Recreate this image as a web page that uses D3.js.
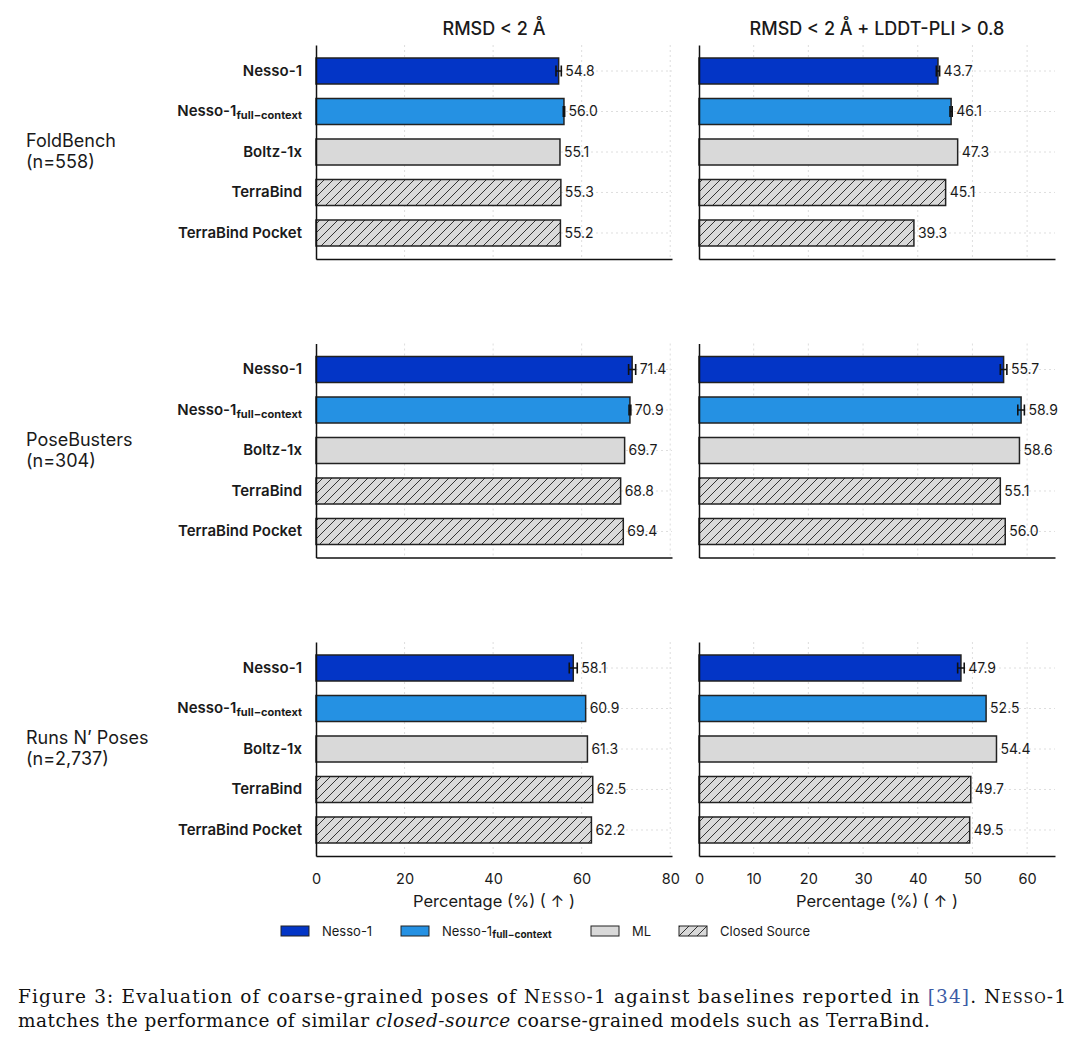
<!DOCTYPE html>
<html lang="en">
<head>
  <meta charset="UTF-8">
  <title>Nesso-1 coarse-grained poses</title>
  <style>
    body { margin: 0; background: #fff; }
    svg text { font-family: Inter, "Open Sans", sans-serif; fill: #1a1a1a; }
    .caption text { font-family: "DejaVu Serif", serif; fill: #111; }
  </style>
</head>
<body>
<svg id="chart" width="1080" height="1045"></svg>
<script src="https://d3js.org/d3.v7.min.js"></script>
<script>

// Data

const benchNames = ["FoldBench", "PoseBusters", "Runs N\u2019 Poses"];
const benchCounts = ["(n=558)", "(n=304)", "(n=2,737)"];
const models = ["Nesso-1", "Nesso-1 full", "Boltz-1x", "TerraBind", "TerraBind Pocket"];
const modelKind = ["nesso", "full", "ml", "closed", "closed"];
const metricTitles = ["RMSD < 2 \u00c5", "RMSD < 2 \u00c5 + LDDT-PLI > 0.8"];

const rmsdValues = [
  [54.8, 56.0, 55.1, 55.3, 55.2],
  [71.4, 70.9, 69.7, 68.8, 69.4],
  [58.1, 60.9, 61.3, 62.5, 62.2]
];
const rmsdErrors = [
  [0.6, 0.15, 0, 0, 0],
  [0.8, 0.2, 0, 0, 0],
  [0.9, 0, 0, 0, 0]
];
const lddtValues = [
  [43.7, 46.1, 47.3, 45.1, 39.3],
  [55.7, 58.9, 58.6, 55.1, 56.0],
  [47.9, 52.5, 54.4, 49.7, 49.5]
];
const lddtErrors = [
  [0.3, 0.2, 0, 0, 0],
  [0.6, 0.6, 0, 0, 0],
  [0.6, 0, 0, 0, 0]
];
const rmsdTicks = [0, 20, 40, 60, 80];
const lddtTicks = [0, 10, 20, 30, 40, 50, 60];

const legendLabels = ["Nesso-1", "Nesso-1 full", "ML", "Closed Source"];
const legendKinds = ["nesso", "full", "ml", "closed"];

// Styling

const fills = { nesso: "#0335c6", full: "#2591e3", ml: "#d9d9d9", closed: "url(#hatch)" };
const edge = "#222";

const svg = d3.select("#chart");

const defs = svg.append("defs");
const pat = defs.append("pattern")
  .attr("id", "hatch")
  .attr("patternUnits", "userSpaceOnUse")
  .attr("width", 9).attr("height", 9);
pat.append("rect").attr("width", 9).attr("height", 9).attr("fill", "#d9d9d9");
pat.append("path")
  .attr("d", "M0,9 L9,0 M-2,2 L2,-2 M7,11 L11,7")
  .attr("stroke", "#333").attr("stroke-width", 1);

const columns = [
  { left: 316, right: 672, max: 80.4, ticks: rmsdTicks, values: rmsdValues, errors: rmsdErrors, title: metricTitles[0] },
  { left: 699, right: 1055, max: 65.1, ticks: lddtTicks, values: lddtValues, errors: lddtErrors, title: metricTitles[1] }
];
const panelTops = [45, 343.5, 642];
const panelH = 214;

// draw a model name, with the subscript for the full-context variant
function modelLabel(sel, name, subSize) {
  if (name === "Nesso-1 full") {
    sel.text(null);
    sel.append("tspan").text("Nesso-1");
    sel.append("tspan").attr("dy", "0.28em").attr("font-size", subSize)
      .attr("font-weight", 700).text("full\u2212context");
  } else {
    sel.text(name);
  }
}

columns.forEach((col, ci) => {
  const x = d3.scaleLinear().domain([0, col.max]).range([col.left, col.right]);

  // column title
  svg.append("text")
    .attr("x", (col.left + col.right) / 2).attr("y", 35)
    .attr("text-anchor", "middle")
    .attr("font-size", 18).attr("font-weight", 500)
    .text(col.title);

  panelTops.forEach((top, bi) => {
    const y = d3.scaleBand().domain(models)
      .range([top, top + panelH])
      .paddingInner(0.358).paddingOuter(0.321);
    const g = svg.append("g");

    // grid
    g.selectAll(".vgrid").data(col.ticks.filter(t => t > 0)).join("line")
      .attr("x1", d => x(d)).attr("x2", d => x(d))
      .attr("y1", top).attr("y2", top + panelH)
      .attr("stroke", "#d6d6d6").attr("stroke-width", 0.8).attr("stroke-dasharray", "2,3");
    g.selectAll(".hgrid").data(models).join("line")
      .attr("x1", col.left).attr("x2", col.right)
      .attr("y1", d => y(d) + y.bandwidth() / 2).attr("y2", d => y(d) + y.bandwidth() / 2)
      .attr("stroke", "#d6d6d6").attr("stroke-width", 0.8).attr("stroke-dasharray", "2,3");

    const vals = col.values[bi];
    const errs = col.errors[bi];

    // bars
    g.selectAll(".bar").data(models).join("rect")
      .attr("x", x(0))
      .attr("y", d => y(d))
      .attr("width", (d, i) => x(vals[i]) - x(0))
      .attr("height", y.bandwidth())
      .attr("fill", (d, i) => fills[modelKind[i]])
      .attr("stroke", edge).attr("stroke-width", 1.5);

    // error bars
    models.forEach((m, i) => {
      if (!errs[i]) return;
      const cy = y(m) + y.bandwidth() / 2;
      const x0 = x(vals[i] - errs[i]), x1 = x(vals[i] + errs[i]);
      g.append("line").attr("x1", x0).attr("x2", x1).attr("y1", cy).attr("y2", cy)
        .attr("stroke", "#111").attr("stroke-width", 1.5);
      [x0, x1].forEach(cx => g.append("line")
        .attr("x1", cx).attr("x2", cx).attr("y1", cy - 5.5).attr("y2", cy + 5.5)
        .attr("stroke", "#111").attr("stroke-width", 1.6));
    });

    // value labels
    g.selectAll(".val").data(models).join("text")
      .attr("x", (d, i) => x(vals[i] + errs[i]) + 4)
      .attr("y", d => y(d) + y.bandwidth() / 2)
      .attr("dy", "0.35em")
      .attr("font-size", 14)
      .text((d, i) => vals[i].toFixed(1));

    // left spine with model names (left column only)
    const yAxis = g.append("g").attr("transform", `translate(${col.left},0)`)
      .call(d3.axisLeft(y).tickSize(0).tickPadding(14));
    yAxis.select(".domain").attr("stroke", "#111").attr("stroke-width", 1.5);
    if (ci === 0) {
      yAxis.selectAll("text")
        .attr("font-family", null)
        .attr("font-size", 15).attr("font-weight", 600).attr("fill", "#1a1a1a")
        .each(function (d) { modelLabel(d3.select(this), d, 11); });
    } else {
      yAxis.selectAll(".tick").remove();
    }

    // bottom spine, tick labels only under the last row of panels
    const last = bi === panelTops.length - 1;
    const xAxis = g.append("g").attr("transform", `translate(0,${top + panelH})`)
      .call(d3.axisBottom(x).tickValues(col.ticks).tickSize(0).tickPadding(18)
        .tickFormat(d3.format("d")));
    xAxis.select(".domain").attr("stroke", "#111").attr("stroke-width", 1.5);
    if (last) {
      xAxis.selectAll("text").attr("font-family", null).attr("font-size", 14.5).attr("fill", "#1a1a1a");
      svg.append("text")
        .attr("x", (col.left + col.right) / 2).attr("y", 907)
        .attr("text-anchor", "middle").attr("font-size", 16.5)
        .text("Percentage (%) ( \u2191 )");
    } else {
      xAxis.selectAll(".tick").remove();
    }

    // benchmark names on the far left
    if (ci === 0) {
      const cy = top + panelH / 2;
      svg.append("text").attr("x", 26).attr("y", cy - 5)
        .attr("font-size", 18).text(benchNames[bi]);
      svg.append("text").attr("x", 26).attr("y", cy + 16)
        .attr("font-size", 18).text(benchCounts[bi]);
    }
  });
});

// legend
const legendX = [281, 401, 591, 679];
const legend = svg.append("g").attr("transform", "translate(0,931)");
legendLabels.forEach((lab, i) => {
  legend.append("rect")
    .attr("x", legendX[i]).attr("y", -5).attr("width", 28).attr("height", 10)
    .attr("fill", fills[legendKinds[i]]).attr("stroke", edge).attr("stroke-width", 1);
  const t = legend.append("text")
    .attr("x", legendX[i] + 41).attr("y", 0).attr("dy", "0.35em")
    .attr("font-size", 13);
  modelLabel(t, lab, 10);
});

// caption
const cap = svg.append("g").attr("class", "caption");
const line1 = cap.append("text").attr("x", 18).attr("y", 1003)
  .attr("font-size", 18.5).attr("textLength", 1048).attr("lengthAdjust", "spacing");
line1.append("tspan").text("Figure 3: Evaluation of coarse-grained poses of N");
line1.append("tspan").attr("font-size", 14).text("ESSO");
line1.append("tspan").text("-1 against baselines reported in ");
line1.append("tspan").attr("fill", "#3b5ba5").text("[34]");
line1.append("tspan").text(". N");
line1.append("tspan").attr("font-size", 14).text("ESSO");
line1.append("tspan").text("-1");

const line2 = cap.append("text").attr("x", 18).attr("y", 1027)
  .attr("font-size", 18.5).attr("textLength", 912).attr("lengthAdjust", "spacing");
line2.append("tspan").text("matches the performance of similar ");
line2.append("tspan").attr("font-style", "italic").text("closed-source");
line2.append("tspan").text(" coarse-grained models such as TerraBind.");

</script>
</body>
</html>
